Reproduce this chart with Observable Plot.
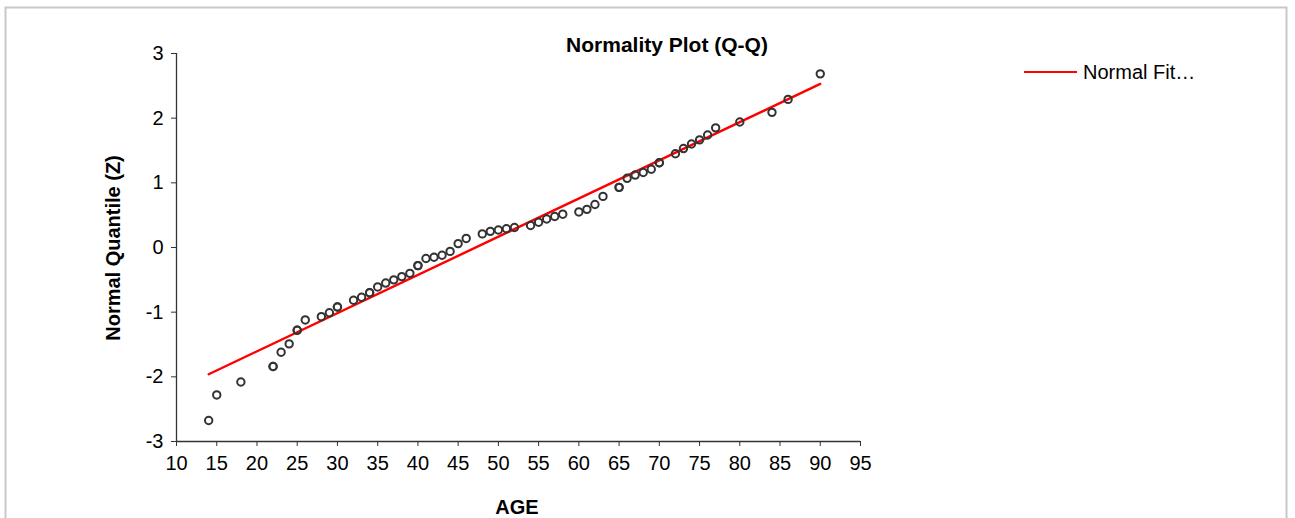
<!DOCTYPE html>
<html>
<head>
<meta charset="utf-8">
<script src="https://cdn.jsdelivr.net/npm/d3@7"></script>
<script src="https://cdn.jsdelivr.net/npm/@observablehq/plot@0.6"></script>
<style>
  html, body { margin: 0; padding: 0; background: #fff; }
  #wrap { position: relative; width: 1295px; height: 518px; overflow: hidden; font-family: "Liberation Sans", Arial, sans-serif; }
  #wrap svg { position: absolute; left: 0; top: 0; }
</style>
</head>
<body>
<div id="wrap"></div>
<script>
// Data
const ages = [14,15,18,22,22,23,24,25,25,26,28,29,30,30,32,33,34,34,35,36,37,38,39,40,40,41,42,43,44,45,46,48,49,50,51,52,54,55,56,57,58,60,61,62,63,65,65,66,67,68,69,70,70,72,73,74,75,76,77,80,84,86,90];
const zScores = [-2.675,-2.28,-2.08,-1.84,-1.84,-1.62,-1.49,-1.28,-1.28,-1.12,-1.07,-1.01,-0.92,-0.92,-0.815,-0.77,-0.70,-0.70,-0.61,-0.55,-0.50,-0.45,-0.40,-0.28,-0.28,-0.17,-0.15,-0.12,-0.06,0.06,0.14,0.21,0.25,0.27,0.29,0.31,0.34,0.39,0.44,0.48,0.515,0.55,0.59,0.665,0.79,0.93,0.93,1.07,1.12,1.16,1.21,1.31,1.31,1.45,1.53,1.60,1.665,1.74,1.85,1.94,2.09,2.29,2.685];
const fitAges = [14, 90];
const fitZ = [-1.96, 2.53];
const xTicks = [10,15,20,25,30,35,40,45,50,55,60,65,70,75,80,85,90,95];
const yTicks = [-3,-2,-1,0,1,2,3];
const titleText = "Normality Plot (Q-Q)";
const xLabel = "AGE";
const yLabel = "Normal Quantile (Z)";
const legendLabel = "Normal Fit…";

const points = ages.map((a, i) => ({age: a, z: zScores[i]}));
const fit = fitAges.map((a, i) => ({age: a, z: fitZ[i]}));

const axisColor = "#333";
const chart = Plot.plot({
  width: 1295,
  height: 518,
  marginLeft: 176,
  marginRight: 435,
  marginTop: 53,
  marginBottom: 77,
  style: {fontFamily: "'Liberation Sans', Arial, sans-serif", fontSize: "20px", color: "#000", background: "transparent", overflow: "visible"},
  x: {domain: [10, 95]},
  y: {domain: [-3, 3]},
  marks: [
    Plot.axisX({ticks: xTicks, tickSize: 5, tickPadding: 9, label: null, stroke: axisColor, fill: "#000", tickFormat: d => String(d)}),
    Plot.axisY({ticks: yTicks, tickSize: 5, tickPadding: 8, label: null, stroke: axisColor, fill: "#000", tickFormat: d => String(d)}),
    Plot.ruleX([10], {stroke: axisColor, strokeWidth: 1.3}),
    Plot.ruleY([-3], {stroke: axisColor, strokeWidth: 1.3}),
    Plot.line(fit, {x: "age", y: "z", stroke: "#ff0000", strokeWidth: 2.4}),
    Plot.dot(points, {x: "age", y: "z", r: 3.7, stroke: "#333", strokeWidth: 2, fill: "none"})
  ]
});
const wrap = document.getElementById("wrap");
wrap.appendChild(chart);
// enlarge tick labels to match the reference
d3.select(chart).selectAll('g[aria-label$="tick label"]').attr("font-size", 20).style("font-size", "20px");
d3.select(chart).selectAll('g[aria-label$="tick label"] text').attr("font-size", 20).style("font-size", "20px");

// Overlay for titles, legend and border
const ov = d3.select(wrap).append("svg")
  .attr("width", 1295).attr("height", 518)
  .style("font-family", "'Liberation Sans', Arial, sans-serif");
ov.append("rect").attr("x", 5.5).attr("y", 7.5).attr("width", 1281).attr("height", 530)
  .attr("fill", "none").attr("stroke", "#c8c8c8").attr("stroke-width", 2);
ov.append("text").attr("x", 667).attr("y", 52).attr("text-anchor", "middle")
  .attr("font-size", 21).attr("font-weight", "bold").text(titleText);
ov.append("text").attr("x", 517).attr("y", 514).attr("text-anchor", "middle")
  .attr("font-size", 20).attr("font-weight", "bold").text(xLabel);
ov.append("text").attr("transform", "translate(120,248) rotate(-90)").attr("text-anchor", "middle")
  .attr("font-size", 20).attr("font-weight", "bold").text(yLabel);
ov.append("line").attr("x1", 1024).attr("x2", 1077).attr("y1", 72).attr("y2", 72)
  .attr("stroke", "#ff0000").attr("stroke-width", 2);
ov.append("text").attr("x", 1083).attr("y", 79).attr("font-size", 20).text(legendLabel);
</script>
</body>
</html>
